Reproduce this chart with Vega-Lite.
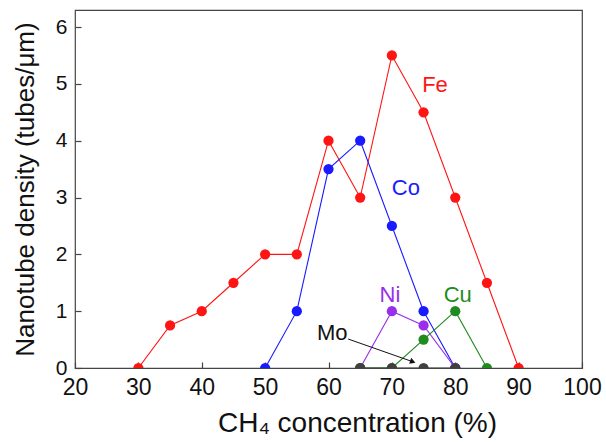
{
  "$schema": "https://vega.github.io/schema/vega-lite/v6.json",
  "autosize": "none",
  "width": 507,
  "height": 358,
  "padding": {"left": 75, "top": 10, "right": 24, "bottom": 76},
  "background": "white",
  "config": {
    "view": {"stroke": "#444444", "strokeWidth": 1.2},
    "font": "Liberation Sans",
    "axis": {"labelFont": "Liberation Sans", "titleFont": "Liberation Sans", "labelColor": "#111", "titleColor": "#111", "titleFontWeight": "normal"}
  },
  "datasets": {
    "series": [
      {"metal": "Fe", "ch4": 30, "density": 0},
      {"metal": "Fe", "ch4": 35, "density": 0.75},
      {"metal": "Fe", "ch4": 40, "density": 1},
      {"metal": "Fe", "ch4": 45, "density": 1.5},
      {"metal": "Fe", "ch4": 50, "density": 2},
      {"metal": "Fe", "ch4": 55, "density": 2},
      {"metal": "Fe", "ch4": 60, "density": 4},
      {"metal": "Fe", "ch4": 65, "density": 3},
      {"metal": "Fe", "ch4": 70, "density": 5.5},
      {"metal": "Fe", "ch4": 75, "density": 4.5},
      {"metal": "Fe", "ch4": 80, "density": 3},
      {"metal": "Fe", "ch4": 85, "density": 1.5},
      {"metal": "Fe", "ch4": 90, "density": 0},
      {"metal": "Co", "ch4": 50, "density": 0},
      {"metal": "Co", "ch4": 55, "density": 1},
      {"metal": "Co", "ch4": 60, "density": 3.5},
      {"metal": "Co", "ch4": 65, "density": 4},
      {"metal": "Co", "ch4": 70, "density": 2.5},
      {"metal": "Co", "ch4": 75, "density": 1},
      {"metal": "Co", "ch4": 80, "density": 0},
      {"metal": "Ni", "ch4": 65, "density": 0},
      {"metal": "Ni", "ch4": 70, "density": 1},
      {"metal": "Ni", "ch4": 75, "density": 0.75},
      {"metal": "Ni", "ch4": 80, "density": 0},
      {"metal": "Cu", "ch4": 65, "density": 0},
      {"metal": "Cu", "ch4": 70, "density": 0},
      {"metal": "Cu", "ch4": 75, "density": 0.5},
      {"metal": "Cu", "ch4": 80, "density": 1},
      {"metal": "Cu", "ch4": 85, "density": 0},
      {"metal": "Mo", "ch4": 65, "density": 0},
      {"metal": "Mo", "ch4": 70, "density": 0},
      {"metal": "Mo", "ch4": 75, "density": 0},
      {"metal": "Mo", "ch4": 80, "density": 0}
    ],
    "labels": [
      {"metal": "Fe", "ch4": 76.8, "density": 4.98},
      {"metal": "Co", "ch4": 72.2, "density": 3.17},
      {"metal": "Ni", "ch4": 69.7, "density": 1.29},
      {"metal": "Cu", "ch4": 80.4, "density": 1.29},
      {"metal": "Mo", "ch4": 60.6, "density": 0.62}
    ],
    "arrow": [
      {"x1": 63.1, "y1": 0.51, "x2": 73.3, "y2": 0.11}
    ]
  },
  "layer": [
    {
      "data": {"name": "series"},
      "mark": {"type": "line", "strokeWidth": 1.1, "clip": true, "point": {"filled": true, "size": 105, "opacity": 1, "clip": true}},
      "encoding": {
        "x": {
          "field": "ch4", "type": "quantitative",
          "scale": {"domain": [20, 100], "nice": false, "zero": false},
          "axis": {
            "values": [20, 25, 30, 35, 40, 45, 50, 55, 60, 65, 70, 75, 80, 85, 90, 95, 100],
            "labelExpr": "datum.value % 10 === 0 ? datum.label : ''",
            "domain": false, "grid": false,
            "tickSize": {"condition": {"test": "datum.value % 10 === 0", "value": -6}, "value": -4},
            "tickColor": "#444444", "tickWidth": 1.2,
            "labelPadding": 14, "labelFontSize": 23, "labelFlush": false,
            "title": "CH₄ concentration (%)", "titleFontSize": 28, "titlePadding": 10,
            "titleX": 282, "titleAlign": "center"
          }
        },
        "y": {
          "field": "density", "type": "quantitative",
          "scale": {"domain": [0, 6.3], "nice": false},
          "axis": {
            "values": [0, 0.5, 1, 1.5, 2, 2.5, 3, 3.5, 4, 4.5, 5, 5.5, 6],
            "labelExpr": "datum.value % 1 === 0 ? format(datum.value, 'd') : ''",
            "domain": false, "grid": false,
            "tickSize": {"condition": {"test": "datum.value % 1 === 0", "value": -6}, "value": -4},
            "tickColor": "#444444", "tickWidth": 1.2,
            "labelPadding": 14, "labelFontSize": 21, "labelFlush": false,
            "title": "Nanotube density (tubes/μm)", "titleFontSize": 26, "titlePadding": 17
          }
        },
        "color": {
          "field": "metal", "type": "nominal",
          "scale": {"domain": ["Fe", "Co", "Ni", "Cu", "Mo"], "range": ["#ff1414", "#1a1aff", "#9a2eea", "#1e8c1e", "#404040"]},
          "legend": null
        }
      }
    },
    {
      "data": {"name": "labels"},
      "mark": {"type": "text", "fontSize": 22, "font": "Liberation Sans", "align": "center", "baseline": "middle"},
      "encoding": {
        "x": {"field": "ch4", "type": "quantitative"},
        "y": {"field": "density", "type": "quantitative"},
        "text": {"field": "metal"},
        "color": {
          "field": "metal", "type": "nominal",
          "scale": {"domain": ["Fe", "Co", "Ni", "Cu", "Mo"], "range": ["#ff1414", "#1a1aff", "#9a2eea", "#1e8c1e", "#111111"]},
          "legend": null
        }
      }
    },
    {
      "data": {"name": "arrow"},
      "mark": {"type": "rule", "color": "#111111", "strokeWidth": 1},
      "encoding": {
        "x": {"field": "x1", "type": "quantitative"},
        "y": {"field": "y1", "type": "quantitative"},
        "x2": {"field": "x2"},
        "y2": {"field": "y2"}
      }
    },
    {
      "data": {"name": "arrow"},
      "mark": {"type": "point", "shape": "triangle-right", "filled": true, "size": 40, "angle": 19, "color": "#111111", "opacity": 1},
      "encoding": {
        "x": {"field": "x2", "type": "quantitative"},
        "y": {"field": "y2", "type": "quantitative"}
      }
    }
  ],
  "resolve": {"scale": {"color": "independent"}}
}
